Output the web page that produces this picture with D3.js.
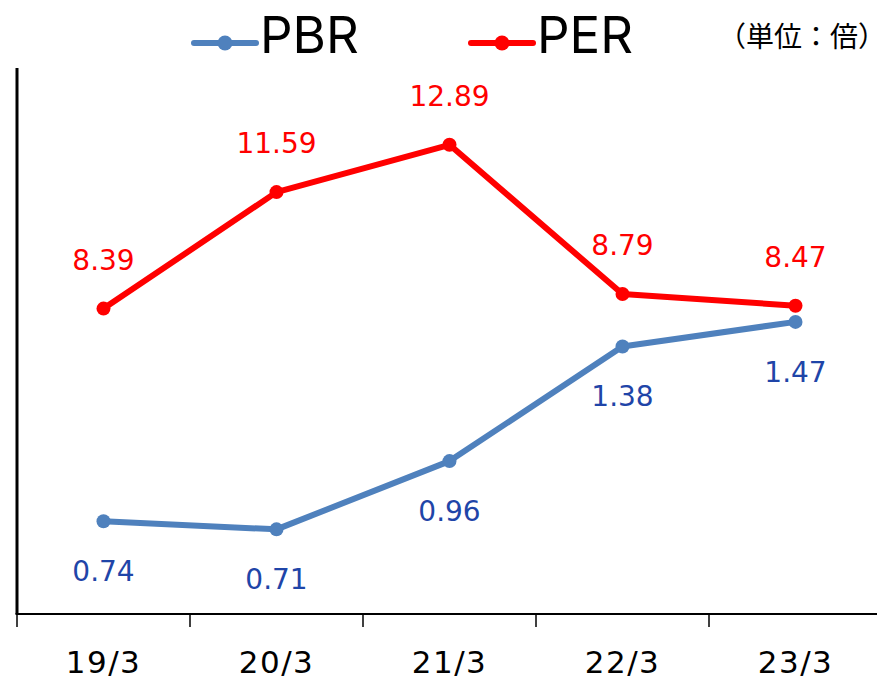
<!DOCTYPE html>
<html>
<head>
<meta charset="utf-8">
<script src="https://cdn.jsdelivr.net/npm/d3@7"></script>
<style>
  body { margin: 0; background: #fff; }
  text { font-family: "DejaVu Sans", Verdana, sans-serif; }
</style>
</head>
<body>
<svg id="chart" width="877" height="681"></svg>
<script>
const categories = ["19/3", "20/3", "21/3", "22/3", "23/3"];
const pbrValues = [0.74, 0.71, 0.96, 1.38, 1.47];
const perValues = [8.39, 11.59, 12.89, 8.79, 8.47];
const pbrDomain = [0.4, 2.4];
const perDomain = [0, 15];

const svg = d3.select("#chart");
const margin = { top: 68, left: 17, bottom: 614 };
const plotRight = 882;

const x = d3.scaleBand().domain(categories).range([margin.left, plotRight]).padding(0);
const yPbr = d3.scaleLinear().domain(pbrDomain).range([margin.bottom, margin.top]);
const yPer = d3.scaleLinear().domain(perDomain).range([margin.bottom, margin.top]);
const cx = d => x(d) + x.bandwidth() / 2;

const pbrColor = "#4f81bd";
const perColor = "#ff0000";
const pbrLabelColor = "#1f45a8";

// axes
svg.append("line")
  .attr("x1", margin.left).attr("x2", margin.left)
  .attr("y1", margin.top).attr("y2", margin.bottom)
  .attr("stroke", "#000").attr("stroke-width", 3);

svg.append("line")
  .attr("x1", margin.left - 1.5).attr("x2", 877)
  .attr("y1", margin.bottom).attr("y2", margin.bottom)
  .attr("stroke", "#000").attr("stroke-width", 2);

svg.selectAll("line.tick").data(categories)
  .join("line")
  .attr("class", "tick")
  .attr("x1", d => x(d)).attr("x2", d => x(d))
  .attr("y1", margin.bottom).attr("y2", margin.bottom + 13)
  .attr("stroke", "#000").attr("stroke-width", 1.5);

svg.selectAll("text.xlabel").data(categories)
  .join("text")
  .attr("class", "xlabel")
  .attr("x", d => cx(d))
  .attr("y", 673)
  .attr("text-anchor", "middle")
  .style("font-size", "31px")
  .style("letter-spacing", "1.5px")
  .attr("fill", "#000")
  .text(d => d);

// series
function drawSeries(values, yScale, color, labelColor, labelDy) {
  const pts = values.map((v, i) => ({ c: categories[i], v }));
  const line = d3.line().x(d => cx(d.c)).y(d => yScale(d.v));
  svg.append("path").datum(pts)
    .attr("d", line)
    .attr("fill", "none")
    .attr("stroke", color)
    .attr("stroke-width", 6)
    .attr("stroke-linejoin", "round");
  svg.append("g").selectAll("circle").data(pts)
    .join("circle")
    .attr("cx", d => cx(d.c))
    .attr("cy", d => yScale(d.v))
    .attr("r", 7)
    .attr("fill", color);
  svg.append("g").selectAll("text").data(pts)
    .join("text")
    .attr("x", d => cx(d.c))
    .attr("y", d => yScale(d.v) + labelDy)
    .attr("text-anchor", "middle")
    .style("font-size", "28px")
    .attr("fill", labelColor)
    .text(d => d.v.toFixed(2));
}

drawSeries(pbrValues, yPbr, pbrColor, pbrLabelColor, 60);
drawSeries(perValues, yPer, perColor, perColor, -39);

// legend
const legend = [
  { name: "PBR", color: pbrColor, x: 194 },
  { name: "PER", color: perColor, x: 471 }
];
const lg = svg.append("g").selectAll("g").data(legend).join("g")
  .attr("transform", d => `translate(${d.x},43)`);
lg.append("line")
  .attr("x1", 0).attr("x2", 62)
  .attr("stroke", d => d.color).attr("stroke-width", 6)
  .attr("stroke-linecap", "round");
lg.append("circle").attr("cx", 31).attr("r", 7.5).attr("fill", d => d.color);
lg.append("text")
  .attr("x", 66).attr("y", 10)
  .style("font-family", "Inter, 'Liberation Sans', sans-serif")
  .style("font-size", "51px")
  .attr("fill", "#000")
  .text(d => d.name);

// unit note; closing paren set half-width so the box ends at its ink
const unit = svg.append("text")
  .attr("x", 718).attr("y", 47)
  .style("font-family", "'Noto Sans CJK JP', sans-serif")
  .style("font-size", "28px")
  .attr("fill", "#000");
unit.append("tspan").text("（単位：倍");
unit.append("tspan").style("font-feature-settings", "'halt' 1").text("）");
</script>
</body>
</html>
